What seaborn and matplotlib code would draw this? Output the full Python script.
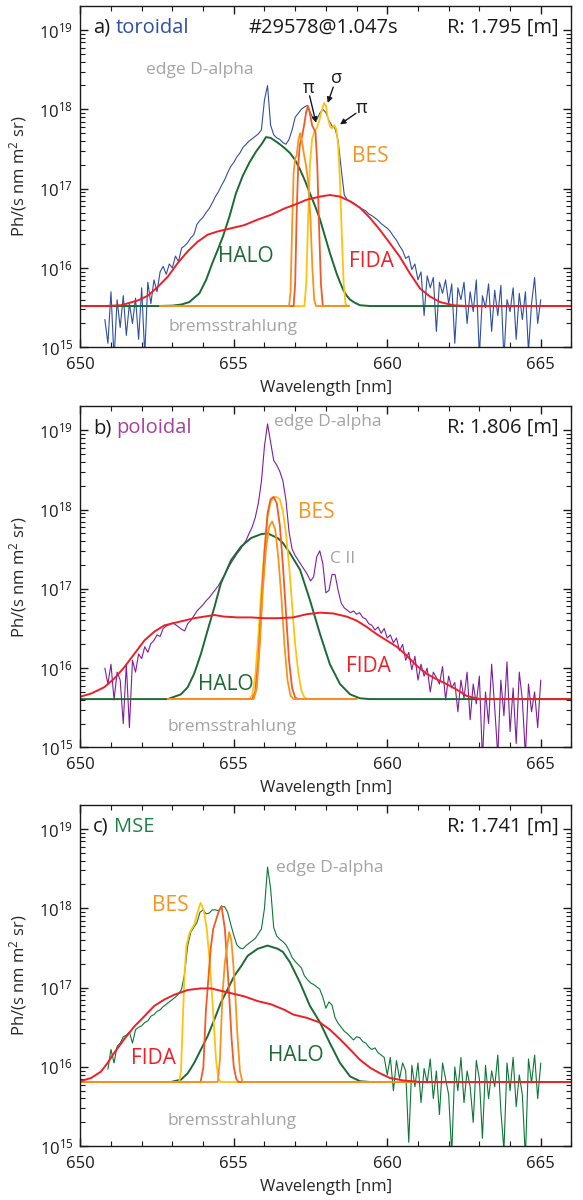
import numpy as np
import matplotlib
matplotlib.use("Agg")
import matplotlib.pyplot as plt
import matplotlib.ticker as mticker
import seaborn as sns

# ---------------- data (log10 of Ph/(s nm m^2 sr)) ----------------
# measured spectra on a 0.1 nm grid
SPEC_A_START = 650.8
SPEC_A = [15.35, 15.05, 15.70, 14.85, 15.60, 15.25, 15.65, 15.15, 15.55, 15.30,
          15.62, 15.10, 15.75, 14.90, 15.82, 15.55, 15.85, 15.70, 15.95, 16.02,
          15.92, 16.05, 16.00, 16.15, 16.08, 16.25, 16.28, 16.32, 16.38, 16.42,
          16.55, 16.60, 16.64, 16.70, 16.75, 16.82, 16.90, 16.96, 17.04, 17.11,
          17.20, 17.28, 17.33, 17.40, 17.45, 17.52, 17.56, 17.60, 17.63, 17.66,
          17.69, 17.74, 18.12, 18.30, 17.80, 17.68, 17.64, 17.62, 17.58, 17.56,
          17.62, 17.74, 17.90, 17.95, 18.00, 18.03, 18.05, 17.95, 17.88, 17.87,
          17.95, 18.00, 17.96, 17.86, 17.79, 17.76, 17.60, 17.25, 16.92, 16.86,
          16.84, 16.82, 16.79, 16.76, 16.74, 16.72, 16.68, 16.66, 16.63, 16.60,
          16.56, 16.53, 16.50, 16.46, 16.40, 16.35, 16.28, 16.22, 16.12, 16.15,
          15.98, 16.05, 15.85, 15.95, 15.40, 15.90, 15.75, 15.88, 15.20, 15.82,
          15.68, 15.85, 15.55, 15.80, 15.05, 15.75, 15.60, 15.82, 15.30, 15.70,
          15.45, 15.85, 14.90, 15.65, 15.50, 15.80, 15.20, 15.72, 15.40, 15.78,
          14.85, 15.60, 15.45, 15.75, 15.10, 15.68, 15.35, 15.70, 14.95, 15.55,
          15.88, 15.30, 15.60]

SPEC_B_START = 650.8
SPEC_B = [16.00, 15.80, 16.05, 15.60, 15.95, 15.85, 15.30, 16.05, 15.25, 16.10,
          15.95, 16.18, 16.12, 16.27, 16.20, 16.31, 16.35, 16.42, 16.40, 16.50,
          16.53, 16.55, 16.57, 16.55, 16.52, 16.49, 16.47, 16.56, 16.60, 16.66,
          16.72, 16.76, 16.80, 16.85, 16.89, 16.94, 16.99, 17.04, 17.11, 17.17,
          17.25, 17.32, 17.38, 17.44, 17.49, 17.55, 17.61, 17.70, 17.78, 17.90,
          18.08, 18.35, 18.80, 19.08, 18.85, 18.62, 18.56, 18.48, 18.36, 18.12,
          17.72, 17.50, 17.42, 17.36, 17.30, 17.24, 17.18, 17.10, 17.15, 17.40,
          17.48, 17.32, 16.95, 16.98, 17.18, 17.18, 16.98, 16.82, 16.76, 16.73,
          16.70, 16.72, 16.68, 16.70, 16.64, 16.62, 16.56, 16.54, 16.48, 16.52,
          16.44, 16.50, 16.38, 16.42, 16.32, 16.38, 16.22, 16.30, 16.10, 16.20,
          15.98, 16.15, 15.85, 16.05, 15.90, 16.00, 15.70, 15.95, 15.88, 15.80,
          16.02, 15.60, 15.90, 15.75, 15.82, 15.45, 15.85, 15.62, 15.95, 15.35,
          15.80, 15.55, 15.90, 14.85, 15.70, 15.30, 16.05, 15.50, 14.90, 15.85,
          15.40, 16.08, 15.20, 15.75, 15.05, 15.95, 15.60, 14.90, 15.80, 15.45,
          15.70, 15.25, 15.85]

SPEC_C_START = 650.9
SPEC_C = [15.97, 16.22, 16.05, 16.26, 16.30, 16.38, 16.40, 16.44, 16.30, 16.47,
          16.50, 16.52, 16.56, 16.58, 16.64, 16.66, 16.70, 16.72, 16.76, 16.79,
          16.82, 16.85, 16.88, 16.92, 16.98, 17.18, 17.53, 17.70, 17.76, 17.82,
          17.95, 17.98, 17.93, 17.94, 17.98, 17.98, 17.97, 18.02, 18.02, 17.95,
          17.80, 17.66, 17.54, 17.50, 17.49, 17.53, 17.56, 17.59, 17.62, 17.68,
          17.74, 18.00, 18.52, 18.25, 17.76, 17.65, 17.61, 17.58, 17.54, 17.47,
          17.38, 17.33, 17.29, 17.25, 17.15, 17.10, 17.06, 17.04, 17.01, 16.98,
          16.88, 16.74, 16.82, 16.78, 16.62, 16.55, 16.50, 16.45, 16.42, 16.38,
          16.34, 16.38, 16.37, 16.32, 16.30, 16.25, 16.22, 16.24, 16.18, 16.15,
          16.12, 15.90, 16.12, 15.70, 16.08, 15.85, 16.05, 15.95, 15.05, 16.02,
          15.75, 16.05, 15.55, 15.98, 15.80, 16.10, 15.60, 15.95, 15.40, 16.05,
          15.85, 15.65, 14.90, 16.00, 15.70, 16.12, 15.55, 15.95, 15.75, 15.30,
          16.08, 15.85, 15.10, 16.02, 15.60, 15.95, 15.75, 16.15, 15.45, 14.95,
          16.05, 15.70, 16.12, 15.50, 15.90, 15.65, 14.85, 16.10, 15.80, 16.15,
          15.60, 16.05]

# ---- panel a models ----
HALO_A_WL = [650, 652.5, 653.0, 653.3, 653.55, 653.88, 654.1, 654.3, 654.5, 654.65, 654.86,
             655.07, 655.29, 655.51, 655.73, 655.94, 656.05, 656.2, 656.43, 656.6, 656.83,
             657.0, 657.16, 657.32, 657.48, 657.65, 657.81, 657.97, 658.13, 658.24, 658.35,
             658.46, 658.57, 658.68, 658.79, 658.95, 659.11, 659.44, 666]
HALO_A = [15.52, 15.52, 15.525, 15.54, 15.57, 15.68, 15.85, 16.06, 16.25, 16.4, 16.65,
          16.94, 17.16, 17.33, 17.47, 17.58, 17.65, 17.64, 17.58, 17.53, 17.45,
          17.36, 17.24, 17.1, 16.94, 16.78, 16.61, 16.4, 16.19, 16.06, 15.93,
          15.82, 15.72, 15.65, 15.6, 15.56, 15.53, 15.52, 15.52]
FIDA_A_WL = [650, 650.78, 651.33, 651.87, 652.2, 652.52, 652.85, 653.17, 653.5, 653.82,
             654.15, 654.47, 654.91, 655.34, 655.78, 656.21, 656.65, 657.0, 657.37, 657.81,
             658.13, 658.46, 658.79, 659.11, 659.44, 659.76, 660.09, 660.41, 660.74, 661.07,
             661.39, 661.72, 662.15, 662.59, 666]
FIDA_A = [15.52, 15.52, 15.53, 15.59, 15.65, 15.76, 15.89, 16.06, 16.21, 16.33,
          16.42, 16.46, 16.5, 16.54, 16.61, 16.67, 16.75, 16.8, 16.86, 16.9,
          16.92, 16.9, 16.84, 16.76, 16.63, 16.48, 16.31, 16.14, 15.93, 15.74,
          15.64, 15.57, 15.53, 15.52, 15.52]
BES_A_Y_WL = [652.6, 657.30, 657.36, 657.42, 657.48, 657.55, 657.62, 657.70, 657.78, 657.86,
              657.94, 658.00, 658.06, 658.14, 658.20, 658.28, 658.34, 658.40, 658.46, 658.52,
              658.58, 658.64, 658.70, 658.75]
BES_A_Y = [15.52, 15.52, 15.8, 16.6, 17.3, 17.62, 17.72, 17.76, 17.85, 17.98,
           18.08, 18.05, 17.9, 17.78, 17.76, 17.8, 17.75, 17.55, 17.1, 16.4,
           15.8, 15.55, 15.52, 15.52]
BES_A_O_WL = [652.6, 656.80, 656.85, 656.90, 656.95, 657.00, 657.05, 657.10, 657.16, 657.22,
              657.28, 657.35, 657.42, 657.50, 657.56, 657.62, 657.68, 658.75]
BES_A_O = [15.52, 15.52, 15.7, 16.5, 17.2, 17.38, 17.42, 17.6, 17.70, 17.6,
           17.45, 17.3, 17.1, 16.6, 16.0, 15.6, 15.52, 15.52]
BES_A_R_WL = [652.6, 656.95, 657.00, 657.05, 657.10, 657.15, 657.22, 657.30, 657.36, 657.42,
              657.48, 657.55, 657.60, 657.66, 657.72, 657.78, 657.84, 657.90, 658.75]
BES_A_R = [15.52, 15.52, 15.8, 16.7, 17.3, 17.55, 17.65, 17.82, 17.97, 18.04,
           17.95, 17.8, 17.76, 17.72, 17.3, 16.5, 15.8, 15.52, 15.52]

# ---- panel b models ----
HALO_B_WL = [650, 652.85, 653.28, 653.5, 653.71, 653.93, 654.15, 654.37, 654.58, 654.91,
             655.23, 655.56, 655.89, 656.1, 656.43, 656.6, 656.83, 657.16, 657.48, 657.81,
             658.13, 658.46, 658.79, 659.11, 659.44, 666]
HALO_B = [15.61, 15.61, 15.67, 15.76, 15.93, 16.18, 16.48, 16.77, 17.07, 17.36,
          17.53, 17.64, 17.69, 17.7, 17.64, 17.58, 17.45, 17.24, 16.86, 16.43,
          16.05, 15.8, 15.67, 15.62, 15.61, 15.61]
FIDA_B_WL = [650, 650.35, 650.57, 650.78, 651.11, 651.43, 651.76, 652.09, 652.41, 652.74,
             653.06, 653.39, 653.71, 654.04, 654.37, 654.69, 655.13, 655.56, 656.0, 656.43,
             656.94, 657.37, 657.81, 658.24, 658.68, 659.0, 659.33, 659.65, 659.98, 660.31,
             660.63, 660.96, 661.28, 661.61, 661.93, 662.26, 662.59, 663.02, 666]
FIDA_B = [15.64, 15.68, 15.72, 15.76, 15.87, 16.01, 16.18, 16.35, 16.46, 16.54,
          16.57, 16.6, 16.63, 16.65, 16.67, 16.65, 16.64, 16.64, 16.63, 16.63,
          16.64, 16.68, 16.7, 16.69, 16.65, 16.6, 16.52, 16.43, 16.35, 16.27,
          16.16, 16.03, 15.93, 15.86, 15.8, 15.73, 15.65, 15.61, 15.61]
BES_B_Y_WL = [652.85, 655.5, 655.6, 655.7, 655.8, 655.9, 656.0, 656.1, 656.2, 656.3,
              656.4, 656.5, 656.6, 656.7, 656.8, 656.9, 657.0, 657.1, 657.2, 657.3,
              657.4, 659.0]
BES_B_Y = [15.61, 15.61, 15.66, 15.9, 16.4, 17.0, 17.5, 17.9, 18.1, 18.15,
           18.16, 18.13, 17.98, 17.7, 17.3, 16.8, 16.3, 15.95, 15.72, 15.63,
           15.61, 15.61]
BES_B_R_WL = [652.85, 655.6, 655.7, 655.8, 655.9, 656.0, 656.1, 656.2, 656.3, 656.4,
              656.5, 656.6, 656.7, 656.8, 656.9, 657.0, 657.1, 659.0]
BES_B_R = [15.61, 15.61, 15.7, 16.1, 16.8, 17.45, 17.95, 18.13, 18.16, 18.08,
           17.8, 17.3, 16.7, 16.1, 15.75, 15.63, 15.61, 15.61]
BES_B_O_WL = [652.85, 655.65, 655.75, 655.85, 655.95, 656.05, 656.15, 656.25, 656.35, 656.45,
              656.55, 656.65, 656.75, 656.85, 656.95, 659.0]
BES_B_O = [15.61, 15.61, 15.75, 16.3, 17.0, 17.5, 17.78, 17.85, 17.75, 17.4,
           16.9, 16.3, 15.85, 15.65, 15.61, 15.61]

# ---- panel c models ----
HALO_C_WL = [650, 652.95, 653.28, 653.5, 653.71, 653.93, 654.15, 654.37, 654.58, 654.8,
             655.02, 655.24, 655.45, 655.78, 656.1, 656.43, 656.6, 656.83, 657.16, 657.48,
             657.81, 658.13, 658.46, 658.79, 659.11, 659.44, 666]
HALO_C = [15.81, 15.81, 15.84, 15.92, 16.05, 16.22, 16.39, 16.6, 16.81, 16.98,
          17.15, 17.27, 17.4, 17.49, 17.53, 17.49, 17.45, 17.32, 17.06, 16.77,
          16.56, 16.3, 16.05, 15.88, 15.82, 15.81, 15.81]
FIDA_C_WL = [650, 650.35, 650.67, 650.89, 651.11, 651.43, 651.76, 652.09, 652.41, 652.74,
             653.06, 653.5, 653.93, 654.26, 654.58, 654.91, 655.34, 655.78, 656.21, 656.65,
             656.94, 657.37, 657.81, 658.13, 658.46, 658.79, 659.11, 659.44, 659.76, 660.09,
             660.52, 661.07, 666]
FIDA_C = [15.82, 15.86, 15.94, 16.05, 16.18, 16.35, 16.51, 16.64, 16.77, 16.85,
          16.91, 16.97, 16.99, 16.99, 16.96, 16.93, 16.89, 16.83, 16.79, 16.72,
          16.66, 16.62, 16.56, 16.47, 16.35, 16.22, 16.09, 15.99, 15.92, 15.86,
          15.83, 15.81, 15.81]
BES_C_Y_WL = [650, 653.22, 653.28, 653.34, 653.40, 653.46, 653.55, 653.63, 653.72, 653.82,
              653.92, 654.02, 654.12, 654.23, 654.33, 654.42, 654.50, 654.58, 666]
BES_C_Y = [15.81, 15.81, 15.95, 16.6, 17.2, 17.53, 17.68, 17.74, 17.8, 17.95,
           18.07, 17.98, 17.74, 17.27, 16.68, 16.1, 15.85, 15.81, 15.81]
BES_C_R_WL = [650, 653.92, 654.01, 654.09, 654.17, 654.25, 654.33, 654.42, 654.50, 654.60,
              654.71, 654.82, 654.93, 655.0, 655.08, 655.15, 666]
BES_C_R = [15.81, 15.81, 16.0, 16.7, 17.1, 17.5, 17.74, 17.85, 17.95, 18.03,
           17.74, 17.1, 16.35, 16.0, 15.85, 15.81, 15.81]
BES_C_O_WL = [650, 654.48, 654.55, 654.63, 654.71, 654.78, 654.85, 654.92, 654.98, 655.05,
              655.12, 655.2, 655.28, 666]
BES_C_O = [15.81, 15.81, 16.1, 16.9, 17.32, 17.5, 17.7, 17.6, 17.32, 16.9,
           16.4, 15.95, 15.81, 15.81]

X_TICKS = [650, 655, 660, 665]
Y_TICKS = [1e15, 1e16, 1e17, 1e18, 1e19]

# ---------------- style ----------------
sns.set_style("ticks")
plt.rcParams['font.family'] = ['Open Sans', 'DejaVu Sans']
plt.rcParams['mathtext.fontset'] = 'custom'
plt.rcParams['mathtext.rm'] = 'Open Sans'
plt.rcParams['mathtext.it'] = 'Open Sans:italic'
plt.rcParams['mathtext.bf'] = 'Open Sans:bold'

C_TOR = '#2f4fa2'
C_POL = '#7d1f9c'
C_POL_T = '#a6409f'
C_MSE = '#0e7636'
C_MSE_T = '#1d8043'
C_HALO = '#1b6a33'
C_FIDA = '#ee1f26'
C_Y = '#ffc20e'
C_O = '#f7941d'
C_R = '#f15a29'
C_GRAY = '#a3a3a3'

fig = plt.figure(figsize=(5.83, 12), dpi=100)
L, W, H = 0.1377, 0.8425, 0.2842
ax_a = fig.add_axes([L, 0.7106, W, H])
ax_b = fig.add_axes([L, 0.3771, W, H])
ax_c = fig.add_axes([L, 0.0448, W, H])


def line(ax, wl, logv, color, lw):
    sns.lineplot(x=np.asarray(wl, float), y=10 ** np.asarray(logv, float), ax=ax,
                 color=color, lw=lw, estimator=None, sort=False, legend=False)


def grid(start, vals):
    return np.round(start + 0.1 * np.arange(len(vals)), 2)


def style_axes(ax):
    ax.set_yscale('log')
    ax.set_xlim(650, 666)
    ax.set_ylim(1e15, 10 ** 19.3)
    ax.set_xticks(X_TICKS)
    ax.xaxis.set_minor_locator(mticker.MultipleLocator(1))
    ax.yaxis.set_major_locator(mticker.FixedLocator(Y_TICKS))
    ax.yaxis.set_minor_locator(mticker.LogLocator(base=10, subs=np.arange(2, 10), numticks=20))
    ax.yaxis.set_major_formatter(mticker.FuncFormatter(
        lambda v, p: r'$\mathregular{10^{%d}}$' % int(round(np.log10(v)))))
    ax.yaxis.set_minor_formatter(mticker.NullFormatter())
    ax.xaxis.set_major_formatter(mticker.FuncFormatter(lambda v, p: '%d' % v))
    ax.tick_params(which='both', direction='in', top=True, right=True, colors='#1a1a1a')
    ax.tick_params(which='major', length=6, width=1.0, labelsize=12, pad=5)
    ax.tick_params(axis='x', which='major', pad=7)
    ax.tick_params(which='minor', length=3.5, width=0.8)
    for s in ax.spines.values():
        s.set_linewidth(1.0)
        s.set_color('#1a1a1a')
    ax.set_xlabel('Wavelength [nm]', fontsize=12, labelpad=5)
    ax.set_ylabel(r'Ph/(s nm m$^{2}$ sr)', fontsize=12, labelpad=4)
    ax.yaxis.set_label_coords(-0.105, 0.5)


def panel_title(ax, letter, word, wcolor, rtext):
    t1 = ax.text(0.026, 0.922, letter, transform=ax.transAxes, fontsize=14.5,
                 color='#1a1a1a', ha='left', va='baseline')
    fig.canvas.draw()
    bb = t1.get_window_extent()
    x1 = ax.transAxes.inverted().transform((bb.x1 + 5, bb.y0))[0]
    ax.text(x1, 0.922, word, transform=ax.transAxes, fontsize=14.5,
            color=wcolor, ha='left', va='baseline')
    ax.text(0.974, 0.922, rtext, transform=ax.transAxes, fontsize=14.5,
            color='#1a1a1a', ha='right', va='baseline')


def lab(ax, x, logy, s, color, size, **kw):
    ax.text(x, 10 ** logy, s, color=color, fontsize=size, ha='center', va='center', **kw)


# ---------------- panel a ----------------
ax = ax_a
line(ax, grid(SPEC_A_START, SPEC_A), SPEC_A, C_TOR, 0.8)
line(ax, HALO_A_WL, HALO_A, C_HALO, 1.4)
line(ax, BES_A_Y_WL, BES_A_Y, C_Y, 1.3)
line(ax, BES_A_R_WL, BES_A_R, C_R, 1.3)
line(ax, BES_A_O_WL, BES_A_O, C_O, 1.3)
line(ax, FIDA_A_WL, FIDA_A, C_FIDA, 1.4)
style_axes(ax)
panel_title(ax, 'a)', 'toroidal', C_TOR, 'R: 1.795 [m]')
ax.text(0.495, 0.922, '#29578@1.047s', transform=ax.transAxes, fontsize=14.5,
        color='#1a1a1a', ha='center', va='baseline')
lab(ax, 653.89, 18.49, 'edge D-alpha', C_GRAY, 12.5)
lab(ax, 654.98, 15.26, 'bremsstrahlung', C_GRAY, 12.5)
lab(ax, 655.4, 16.15, 'HALO', C_HALO, 15)
lab(ax, 659.5, 16.08, 'FIDA', C_FIDA, 15)
lab(ax, 659.44, 17.40, 'BES', C_O, 15)
lab(ax, 657.43, 18.27, 'π', '#1a1a1a', 13)
lab(ax, 658.36, 18.39, 'σ', '#1a1a1a', 13)
lab(ax, 659.18, 18.02, 'π', '#1a1a1a', 13)
arr = dict(arrowstyle='-|>', color='#1a1a1a', lw=1.0, mutation_scale=8, shrinkA=0, shrinkB=0)
ax.annotate('', xy=(657.68, 10 ** 17.83), xytext=(657.47, 10 ** 18.17), arrowprops=arr)
ax.annotate('', xy=(658.06, 10 ** 18.08), xytext=(658.24, 10 ** 18.28), arrowprops=arr)
ax.annotate('', xy=(658.46, 10 ** 17.81), xytext=(658.98, 10 ** 17.95), arrowprops=arr)

# ---------------- panel b ----------------
ax = ax_b
line(ax, grid(SPEC_B_START, SPEC_B), SPEC_B, C_POL, 0.8)
line(ax, HALO_B_WL, HALO_B, C_HALO, 1.4)
line(ax, BES_B_Y_WL, BES_B_Y, C_Y, 1.3)
line(ax, BES_B_R_WL, BES_B_R, C_R, 1.3)
line(ax, BES_B_O_WL, BES_B_O, C_O, 1.3)
line(ax, FIDA_B_WL, FIDA_B, C_FIDA, 1.4)
style_axes(ax)
panel_title(ax, 'b)', 'poloidal', C_POL_T, 'R: 1.806 [m]')
lab(ax, 658.06, 19.1, 'edge D-alpha', C_GRAY, 12.5)
lab(ax, 654.94, 15.26, 'bremsstrahlung', C_GRAY, 12.5)
lab(ax, 654.73, 15.79, 'HALO', C_HALO, 15)
lab(ax, 659.38, 16.02, 'FIDA', C_FIDA, 15)
lab(ax, 657.69, 17.96, 'BES', C_O, 15)
lab(ax, 658.54, 17.38, 'C II', C_GRAY, 12.5)

# ---------------- panel c ----------------
ax = ax_c
line(ax, grid(SPEC_C_START, SPEC_C), SPEC_C, C_MSE, 0.8)
line(ax, HALO_C_WL, HALO_C, C_HALO, 1.4)
line(ax, BES_C_Y_WL, BES_C_Y, C_Y, 1.3)
line(ax, BES_C_R_WL, BES_C_R, C_R, 1.3)
line(ax, BES_C_O_WL, BES_C_O, C_O, 1.3)
line(ax, FIDA_C_WL, FIDA_C, C_FIDA, 1.4)
style_axes(ax)
panel_title(ax, 'c)', 'MSE', C_MSE_T, 'R: 1.741 [m]')
lab(ax, 658.12, 18.51, 'edge D-alpha', C_GRAY, 12.5)
lab(ax, 654.94, 15.32, 'bremsstrahlung', C_GRAY, 12.5)
lab(ax, 657.03, 16.15, 'HALO', C_HALO, 15)
lab(ax, 652.38, 16.10, 'FIDA', C_FIDA, 15)
lab(ax, 652.92, 18.03, 'BES', C_O, 15)

fig.savefig('out.png', dpi=100)
